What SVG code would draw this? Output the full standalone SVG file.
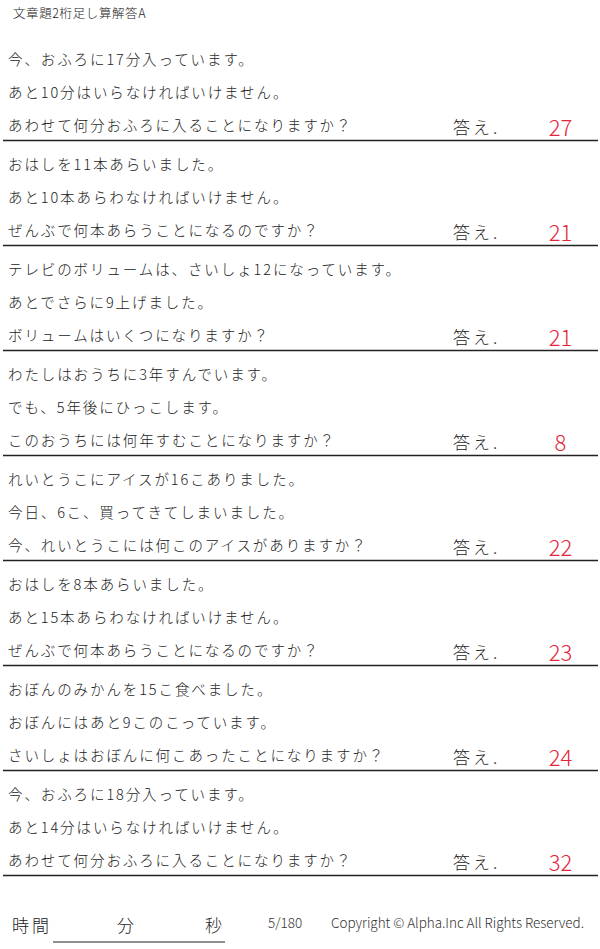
<svg xmlns="http://www.w3.org/2000/svg" width="600" height="949" viewBox="0 0 600 949">
<style>
.bg{fill:#fff}
.t{font-family:"Noto Sans CJK JP","Noto Sans CJK SC",sans-serif;font-size:14.5px;font-weight:300;letter-spacing:1.9px;fill:#222}
.title{font-family:"Noto Sans CJK JP",sans-serif;font-size:12.5px;font-weight:300;letter-spacing:0.6px;fill:#222}
.ans{font-family:"Noto Sans CJK JP",sans-serif;font-size:17px;font-weight:300;letter-spacing:3px;fill:#222}
.num{font-family:"Noto Sans CJK JP","Liberation Sans",sans-serif;font-size:22px;font-weight:300;fill:#e52437;text-anchor:middle}
.rule{stroke:#222;stroke-width:1.5;fill:none}
.ft{font-family:"Noto Sans CJK JP",sans-serif;font-size:17px;font-weight:300;fill:#222}
.cp{font-family:"Noto Sans CJK JP","Liberation Sans",sans-serif;font-size:13.5px;font-weight:300;fill:#333}
</style>
<rect class="bg" x="0" y="0" width="600" height="949"/>
<text class="title" x="13" y="18">文章題2桁足し算解答A</text>

<g id="q1">
<text class="t" x="8" y="65">今、おふろに17分入っています。</text>
<text class="t" x="8" y="98">あと10分はいらなければいけません。</text>
<text class="t" x="8" y="131">あわせて何分おふろに入ることになりますか？</text>
<text class="ans" x="453" y="134">答え.</text>
<text class="num" x="560.5" y="136">27</text>
</g>
<g id="q2" transform="translate(0,105)">
<text class="t" x="8" y="65">おはしを11本あらいました。</text>
<text class="t" x="8" y="98">あと10本あらわなければいけません。</text>
<text class="t" x="8" y="131">ぜんぶで何本あらうことになるのですか？</text>
<text class="ans" x="453" y="134">答え.</text>
<text class="num" x="560.5" y="136">21</text>
</g>
<g id="q3" transform="translate(0,210)">
<text class="t" x="8" y="65">テレビのボリュームは、さいしょ12になっています。</text>
<text class="t" x="8" y="98">あとでさらに9上げました。</text>
<text class="t" x="8" y="131">ボリュームはいくつになりますか？</text>
<text class="ans" x="453" y="134">答え.</text>
<text class="num" x="560.5" y="136">21</text>
</g>
<g id="q4" transform="translate(0,315)">
<text class="t" x="8" y="65">わたしはおうちに3年すんでいます。</text>
<text class="t" x="8" y="98">でも、5年後にひっこします。</text>
<text class="t" x="8" y="131">このおうちには何年すむことになりますか？</text>
<text class="ans" x="453" y="134">答え.</text>
<text class="num" x="560.5" y="136">8</text>
</g>
<g id="q5" transform="translate(0,420)">
<text class="t" x="8" y="65">れいとうこにアイスが16こありました。</text>
<text class="t" x="8" y="98">今日、6こ、買ってきてしまいました。</text>
<text class="t" x="8" y="131">今、れいとうこには何このアイスがありますか？</text>
<text class="ans" x="453" y="134">答え.</text>
<text class="num" x="560.5" y="136">22</text>
</g>
<g id="q6" transform="translate(0,525)">
<text class="t" x="8" y="65">おはしを8本あらいました。</text>
<text class="t" x="8" y="98">あと15本あらわなければいけません。</text>
<text class="t" x="8" y="131">ぜんぶで何本あらうことになるのですか？</text>
<text class="ans" x="453" y="134">答え.</text>
<text class="num" x="560.5" y="136">23</text>
</g>
<g id="q7" transform="translate(0,630)">
<text class="t" x="8" y="65">おぼんのみかんを15こ食べました。</text>
<text class="t" x="8" y="98">おぼんにはあと9このこっています。</text>
<text class="t" x="8" y="131">さいしょはおぼんに何こあったことになりますか？</text>
<text class="ans" x="453" y="134">答え.</text>
<text class="num" x="560.5" y="136">24</text>
</g>
<g id="q8" transform="translate(0,735)">
<text class="t" x="8" y="65">今、おふろに18分入っています。</text>
<text class="t" x="8" y="98">あと14分はいらなければいけません。</text>
<text class="t" x="8" y="131">あわせて何分おふろに入ることになりますか？</text>
<text class="ans" x="453" y="134">答え.</text>
<text class="num" x="560.5" y="136">32</text>
</g>

<g id="rules">
<line class="rule" x1="3" y1="140.5" x2="598" y2="140.5"/>
<line class="rule" x1="3" y1="245.5" x2="598" y2="245.5"/>
<line class="rule" x1="3" y1="350.5" x2="598" y2="350.5"/>
<line class="rule" x1="3" y1="455.5" x2="598" y2="455.5"/>
<line class="rule" x1="3" y1="560.5" x2="598" y2="560.5"/>
<line class="rule" x1="3" y1="665.5" x2="598" y2="665.5"/>
<line class="rule" x1="3" y1="770.5" x2="598" y2="770.5"/>
<line class="rule" x1="3" y1="875.5" x2="598" y2="875.5"/>
</g>

<g id="footer">
<text class="ft" x="12" y="932" letter-spacing="3">時間</text>
<line x1="53" y1="942" x2="225" y2="942" stroke="#222" stroke-width="1.2"/>
<text class="ft" x="117" y="932">分</text>
<text class="ft" x="205" y="932">秒</text>
<text class="cp" x="268" y="928">5/180</text>
<text class="cp" x="331" y="928" textLength="253" lengthAdjust="spacing">Copyright ©  Alpha.Inc All Rights Reserved.</text>
</g>
</svg>
